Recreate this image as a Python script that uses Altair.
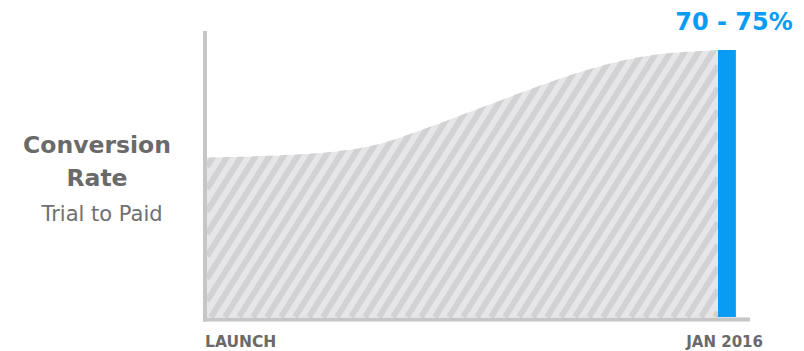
import altair as alt
import pandas as pd

# ---- data ----
t_vals = [0, 8.4, 18.2, 28.0, 33.9, 40.3, 47.0, 53.4, 59.9, 65.2, 71.6, 78.3, 84.7, 91.2, 96.5, 100]
rate_vals = [44.8, 45.1, 45.7, 47.05, 48.7, 51.7, 55.2, 58.7, 62.2, 65.0, 68.2, 71.0, 73.0, 74.2, 74.75, 75.0]
bar_start = [100]
bar_end = [103.5]
bar_top = [75]
range_label = ["70 - 75%"]
x_labels = ["LAUNCH", "JAN 2016"]
title_lines = ["Conversion", "Rate"]
subtitle = ["Trial to Paid"]

FONT = "DejaVu Sans"
BLUE = "#0a9cf5"
GREY_TXT = "#6a6a6a"
AXIS = "#c6c6c6"
LIGHT = "#e6e6e8"
DARK = "#d2d2d4"

# scale geometry (pixels per unit)
PX_T = 5.11
PX_P = 3.56
Y_TOP = 317 / PX_P
xs = alt.Scale(domain=[-207 / PX_T, (804 - 207) / PX_T], nice=False, zero=False)
ys = alt.Scale(domain=[-(351 - 317) / PX_P, Y_TOP], nice=False, zero=False)

curve = pd.DataFrame({"t": t_vals, "rate": rate_vals})
bar = pd.DataFrame({"t": bar_start, "t2": bar_end, "rate": bar_top, "label": range_label})
one = alt.Data(values=[{}])

base_area = alt.Chart(curve).mark_area(color=LIGHT, interpolate="monotone").encode(
    x=alt.X("t:Q", scale=xs, axis=None),
    y=alt.Y("rate:Q", scale=ys, axis=None, stack=None),
    y2=alt.Y2(datum=0),
)

# diagonal hatching (decoration), clipped to the filled region's bounding box
m = 1.6 * PX_T / PX_P
ptop = 80
step = 14 / PX_T
ts0 = -ptop / m
n = int((100 - ts0) / step) + 2
stripes = (
    alt.Chart(alt.sequence(0, n, 1, as_="k"))
    .transform_calculate(ts=f"{ts0} + datum.k * {step}")
    .transform_calculate(t1="max(datum.ts, 0)", t2=f"min(datum.ts + {ptop}/{m}, 100)")
    .transform_filter("datum.t1 < datum.t2")
    .transform_calculate(p1=f"{m}*(datum.t1 - datum.ts)", p2=f"{m}*(datum.t2 - datum.ts)")
    .mark_rule(strokeWidth=6, color=DARK, strokeCap="butt")
    .encode(
        x=alt.X("t1:Q", scale=xs, axis=None),
        x2="t2:Q",
        y=alt.Y("p1:Q", scale=ys, axis=None),
        y2="p2:Q",
    )
)

mask = alt.Chart(curve).mark_area(color="white", interpolate="monotone").encode(
    x=alt.X("t:Q", scale=xs, axis=None),
    y=alt.Y("rate:Q", scale=ys, axis=None, stack=None),
    y2=alt.Y2(datum=Y_TOP),
)
mask_bar = alt.Chart(bar).mark_rect(color="white").encode(
    x=alt.X("t:Q", scale=xs, axis=None),
    x2="t2:Q",
    y=alt.Y("rate:Q", scale=ys, axis=None),
    y2=alt.Y2(datum=Y_TOP),
)

blue_bar = alt.Chart(bar).mark_rect(color=BLUE).encode(
    x=alt.X("t:Q", scale=xs, axis=None),
    x2="t2:Q",
    y=alt.Y("rate:Q", scale=ys, axis=None),
    y2=alt.Y2(datum=0),
)

vline = alt.Chart(one).mark_rule(color=AXIS, strokeWidth=4).encode(
    x=alt.value(205), y=alt.value(31), y2=alt.value(321.5)
)
hline = alt.Chart(one).mark_rule(color=AXIS, strokeWidth=4).encode(
    x=alt.value(203), x2=alt.value(750), y=alt.value(319.5)
)

range_text = alt.Chart(bar).mark_text(
    font=FONT, fontSize=24, fontWeight="bold", color=BLUE, align="center", baseline="alphabetic"
).encode(x=alt.value(734), y=alt.value(30), text="label:N")

lab1 = alt.Chart(one).mark_text(
    font=FONT, fontSize=15.5, fontWeight="bold", color=GREY_TXT, align="left", baseline="alphabetic"
).encode(x=alt.value(205), y=alt.value(347), text=alt.value(x_labels[0]))
lab2 = alt.Chart(one).mark_text(
    font=FONT, fontSize=15, fontWeight="bold", color=GREY_TXT, align="right", baseline="alphabetic"
).encode(x=alt.value(763), y=alt.value(347), text=alt.value(x_labels[1]))

t1 = alt.Chart(one).mark_text(
    font=FONT, fontSize=23.5, fontWeight="bold", color=GREY_TXT, align="center", baseline="alphabetic"
).encode(x=alt.value(97), y=alt.value(153), text=alt.value(title_lines[0]))
t2 = alt.Chart(one).mark_text(
    font=FONT, fontSize=23.5, fontWeight="bold", color=GREY_TXT, align="center", baseline="alphabetic"
).encode(x=alt.value(97), y=alt.value(186), text=alt.value(title_lines[1]))
t3 = alt.Chart(one).mark_text(
    font=FONT, fontSize=21, fontWeight="normal", color="#707070", align="center", baseline="alphabetic"
).encode(x=alt.value(102), y=alt.value(221), text=alt.value(subtitle[0]))

chart = (
    alt.layer(base_area, stripes, mask, mask_bar, blue_bar, vline, hline, range_text, lab1, lab2, t1, t2, t3)
    .properties(width=804, height=351, padding=0, autosize=alt.AutoSizeParams(type="none"), background="white")
    .configure_view(stroke=None)
)

chart.save("out.html", embed_options={"renderer": "svg", "actions": False})
